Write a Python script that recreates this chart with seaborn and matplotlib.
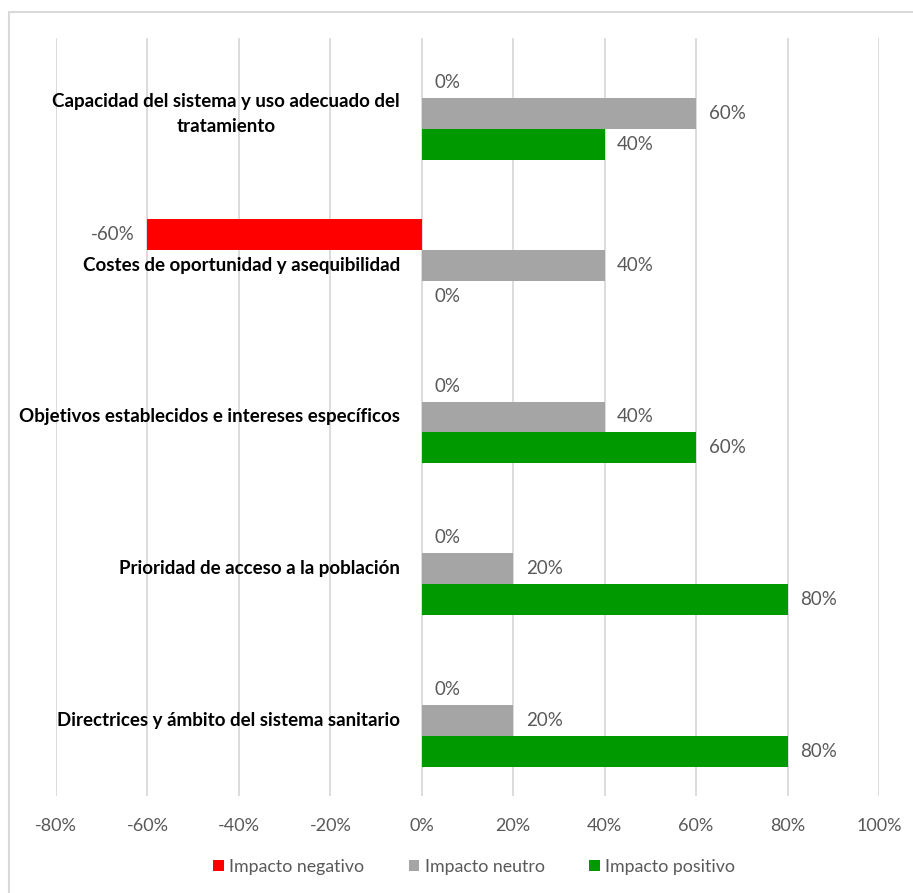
import numpy as np
import pandas as pd
import matplotlib
matplotlib.use("Agg")
import matplotlib.pyplot as plt
from matplotlib.patches import Patch, Rectangle
from matplotlib.ticker import FixedLocator, FuncFormatter
import seaborn as sns

# Factores evaluados y porcentaje de respuestas por tipo de impacto
categorias = [
    "Capacidad del sistema y uso adecuado del\ntratamiento",
    "Costes de oportunidad y asequibilidad",
    "Objetivos establecidos e intereses específicos",
    "Prioridad de acceso a la población",
    "Directrices y ámbito del sistema sanitario",
]
impacto_negativo = [0, -60, 0, 0, 0]
impacto_neutro = [60, 40, 40, 20, 20]
impacto_positivo = [40, 0, 60, 80, 80]

series = ["Impacto negativo", "Impacto neutro", "Impacto positivo"]
colores = ["#FF0000", "#A5A5A5", "#009900"]
ticks_x = [-80, -60, -40, -20, 0, 20, 40, 60, 80, 100]

df = pd.DataFrame({
    "factor": categorias * 3,
    "serie": [series[0]] * 5 + [series[1]] * 5 + [series[2]] * 5,
    "valor": impacto_negativo + impacto_neutro + impacto_positivo,
})

sns.set_theme(style="white")
plt.rcParams["font.family"] = ["Lato", "DejaVu Sans"]

W, H = 913, 893
fig = plt.figure(figsize=(W / 100, H / 100), dpi=100)
ax = fig.add_axes([56 / W, 1 - 796 / H, (879 - 56) / W, (796 - 38) / H])

sns.barplot(
    data=df, y="factor", x="valor", hue="serie", orient="h",
    hue_order=series, palette=colores, order=categorias, saturation=1,
    width=0.613, errorbar=None, linewidth=0, legend=False, ax=ax,
)

ax.set_xlim(-80, 100)
ax.xaxis.set_major_locator(FixedLocator(ticks_x))
ax.xaxis.set_major_formatter(FuncFormatter(lambda v, p: f"{int(round(v))}%"))
ax.tick_params(axis="x", length=0, pad=16, labelsize=13, labelcolor="#595959")
ax.set_yticks([])
ax.set_xlabel("")
ax.set_ylabel("")
for s in ax.spines.values():
    s.set_visible(False)
ax.grid(axis="x", color="#D9D9D9", linewidth=1.3)
ax.set_axisbelow(True)

# Etiquetas de valor en el extremo de cada barra
for cont in ax.containers:
    ax.bar_label(cont, fmt="%.0f%%", padding=9, fontsize=13.5, color="#595959")

# Nombres de los factores junto al eje de 0 %
offset = matplotlib.transforms.offset_copy(ax.transData, fig=fig, x=-22, y=0, units="dots")
for i, nombre in enumerate(categorias):
    ax.text(0, i, nombre, transform=offset, ha="right", va="center",
            multialignment="center", fontsize=13.5, fontweight="bold",
            color="#000000", linespacing=1.55)

handles = [Patch(facecolor=c, edgecolor="none", label=s) for s, c in zip(series, colores)]
fig.legend(handles=handles, loc="center", bbox_to_anchor=(474 / W, 1 - 867 / H),
           ncol=3, frameon=False, fontsize=12.8, labelcolor="#595959",
           handlelength=0.6, handleheight=0.6, handletextpad=0.3,
           columnspacing=2.5)

fig.patches.append(Rectangle((9 / W, -0.05), 1.2, 1 - 12 / H + 0.05,
                             transform=fig.transFigure, fill=False,
                             edgecolor="#D9D9D9", linewidth=1.5))

fig.savefig("out.png", dpi=100)
